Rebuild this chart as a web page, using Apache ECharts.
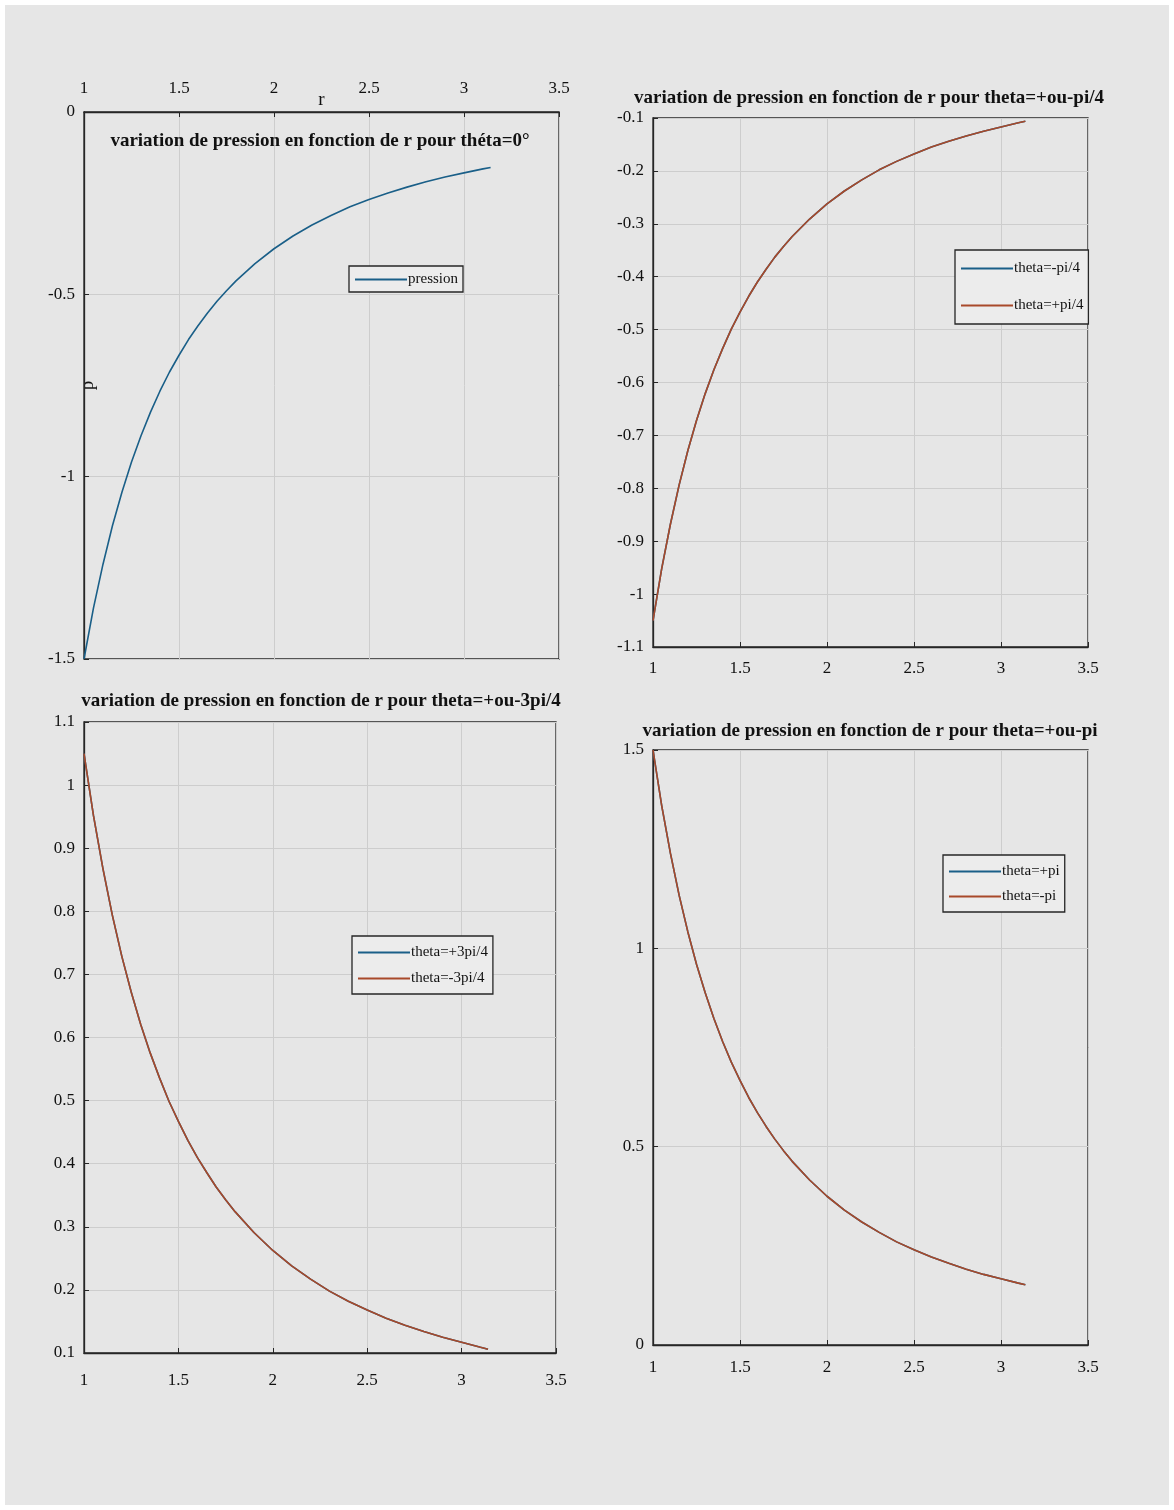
<!DOCTYPE html>
<html>
<head>
<meta charset="utf-8">
<script src="https://cdn.jsdelivr.net/npm/echarts@6/dist/echarts.min.js"></script>
<style>
html,body{margin:0;padding:0;background:#ffffff;}
#chart{position:absolute;left:0;top:0;width:1174px;height:1510px;background:#e6e6e6;box-shadow:inset 0 0 0 5px #ffffff;}
</style>
</head>
<body>
<div id="chart"></div>
<script>
// r values (abscissa)
const rVals = [1, 1.05, 1.1, 1.15, 1.2, 1.25, 1.3, 1.35, 1.4, 1.45, 1.5, 1.55, 1.6, 1.65, 1.7, 1.75, 1.8, 1.9, 2.0, 2.1, 2.2, 2.3, 2.4, 2.5, 2.6, 2.7, 2.8, 2.9, 3.0, 3.1, 3.14];
// theta = 0
const pTheta0 = [-1.5, -1.36, -1.24, -1.134, -1.042, -0.96, -0.888, -0.823, -0.765, -0.713, -0.667, -0.624, -0.586, -0.551, -0.519, -0.490, -0.463, -0.416, -0.375, -0.340, -0.310, -0.284, -0.260, -0.240, -0.222, -0.206, -0.191, -0.178, -0.167, -0.156, -0.152];
// theta = -pi/4 and +pi/4
const pMinusPi4 = [-1.05, -0.952, -0.868, -0.794, -0.729, -0.672, -0.621, -0.576, -0.536, -0.499, -0.467, -0.437, -0.410, -0.386, -0.363, -0.343, -0.324, -0.291, -0.2625, -0.238, -0.217, -0.198, -0.182, -0.168, -0.155, -0.144, -0.134, -0.125, -0.117, -0.109, -0.106];
const pPlusPi4 = [-1.05, -0.952, -0.868, -0.794, -0.729, -0.672, -0.621, -0.576, -0.536, -0.499, -0.467, -0.437, -0.410, -0.386, -0.363, -0.343, -0.324, -0.291, -0.2625, -0.238, -0.217, -0.198, -0.182, -0.168, -0.155, -0.144, -0.134, -0.125, -0.117, -0.109, -0.106];
// theta = +3pi/4 and -3pi/4
const pPlus3Pi4 = [1.05, 0.952, 0.868, 0.794, 0.729, 0.672, 0.621, 0.576, 0.536, 0.499, 0.467, 0.437, 0.410, 0.386, 0.363, 0.343, 0.324, 0.291, 0.2625, 0.238, 0.217, 0.198, 0.182, 0.168, 0.155, 0.144, 0.134, 0.125, 0.117, 0.109, 0.106];
const pMinus3Pi4 = [1.05, 0.952, 0.868, 0.794, 0.729, 0.672, 0.621, 0.576, 0.536, 0.499, 0.467, 0.437, 0.410, 0.386, 0.363, 0.343, 0.324, 0.291, 0.2625, 0.238, 0.217, 0.198, 0.182, 0.168, 0.155, 0.144, 0.134, 0.125, 0.117, 0.109, 0.106];
// theta = +pi and -pi
const pPlusPi = [1.5, 1.36, 1.24, 1.134, 1.042, 0.96, 0.888, 0.823, 0.765, 0.713, 0.667, 0.624, 0.586, 0.551, 0.519, 0.490, 0.463, 0.416, 0.375, 0.340, 0.310, 0.284, 0.260, 0.240, 0.222, 0.206, 0.191, 0.178, 0.167, 0.156, 0.152];
const pMinusPi = [1.5, 1.36, 1.24, 1.134, 1.042, 0.96, 0.888, 0.823, 0.765, 0.713, 0.667, 0.624, 0.586, 0.551, 0.519, 0.490, 0.463, 0.416, 0.375, 0.340, 0.310, 0.284, 0.260, 0.240, 0.222, 0.206, 0.191, 0.178, 0.167, 0.156, 0.152];

const titles = [
  'variation de pression en fonction de r pour théta=0°',
  'variation de pression en fonction de r pour theta=+ou-pi/4',
  'variation de pression en fonction de r pour theta=+ou-3pi/4',
  'variation de pression en fonction de r pour theta=+ou-pi'
];
const seriesNames = [['pression'], ['theta=-pi/4', 'theta=+pi/4'], ['theta=+3pi/4', 'theta=-3pi/4'], ['theta=+pi', 'theta=-pi']];
const seriesData = [[pTheta0], [pMinusPi4, pPlusPi4], [pPlus3Pi4, pMinus3Pi4], [pPlusPi, pMinusPi]];
const yRanges = [[-1.5, 0, 0.5], [-1.1, -0.1, 0.1], [0.1, 1.1, 0.1], [0, 1.5, 0.5]];
const xRange = [1, 3.5, 0.5];

const FONT = "'Liberation Serif', 'DejaVu Serif', serif";
const BLUE = '#1a5f88';
const ORANGE = '#a8492a';
const AX = '#262626';

const grids = [
  {left: 84, top: 112, width: 475, height: 547},
  {left: 653, top: 118, width: 435, height: 529},
  {left: 84, top: 722, width: 472, height: 631},
  {left: 653, top: 750, width: 435, height: 595}
];
const xLabelMargin = [15, 13, 19, 14];

function fmt(v){ return String(parseFloat(v.toFixed(2))); }

const xAxes = grids.map((g, i) => ({
  type: 'value', gridIndex: i, min: xRange[0], max: xRange[1], interval: xRange[2],
  position: i === 0 ? 'top' : 'bottom',
  name: i === 0 ? 'r' : '', nameLocation: 'middle', nameGap: 2, nameMoveOverlap: false,
  nameTextStyle: {fontFamily: FONT, fontSize: 19, color: '#111'},
  axisLine: {show: true, onZero: false, lineStyle: {color: AX, width: 1.3}},
  axisTick: {show: true, inside: true, length: 5, lineStyle: {color: AX}},
  axisLabel: {fontFamily: FONT, fontSize: 17, color: '#111', margin: xLabelMargin[i], formatter: fmt},
  splitLine: {show: true, lineStyle: {color: '#cdcdcd', width: 1}}
}));

const yAxes = grids.map((g, i) => ({
  type: 'value', gridIndex: i, min: yRanges[i][0], max: yRanges[i][1], interval: yRanges[i][2],
  name: i === 0 ? 'p' : '', nameLocation: 'middle', nameGap: -14, nameRotate: 90, nameMoveOverlap: false,
  nameTextStyle: {fontFamily: FONT, fontSize: 19, color: '#111'},
  axisLine: {show: true, onZero: false, lineStyle: {color: AX, width: 1.3}},
  axisTick: {show: true, inside: true, length: 5, lineStyle: {color: AX}},
  axisLabel: {fontFamily: FONT, fontSize: 17, color: '#111', margin: 9, formatter: fmt},
  splitLine: {show: true, lineStyle: {color: '#cdcdcd', width: 1}}
}));

const series = [];
seriesNames.forEach((names, gi) => {
  names.forEach((nm, si) => {
    series.push({
      type: 'line', name: nm, xAxisIndex: gi, yAxisIndex: gi,
      data: rVals.map((r, k) => [r, seriesData[gi][si][k]]),
      showSymbol: false, smooth: false,
      lineStyle: {width: 1.6, color: si === 0 ? BLUE : ORANGE},
      itemStyle: {color: si === 0 ? BLUE : ORANGE},
      z: 3 + si
    });
  });
});

const titleCfg = [
  {x: 320, top: 132},
  {x: 869, top: 89},
  {x: 321, top: 692},
  {x: 870, top: 722}
];

const legendCfg = [
  {left: 349, top: 266, itemGap: 10, padding: [6, 5, 5, 6]},
  {left: 955, top: 250, itemGap: 22, padding: [11, 5, 11, 6]},
  {left: 352, top: 936, itemGap: 11, padding: [9, 5, 8, 6]},
  {left: 943, top: 855, itemGap: 10, padding: [9, 5, 8, 6]}
];

const option = {
  animation: false,
  title: titles.map((t, i) => ({
    text: t, left: titleCfg[i].x, top: titleCfg[i].top, textAlign: 'center', padding: 0,
    textStyle: {fontFamily: FONT, fontWeight: 'bold', fontSize: 19, color: '#111'}
  })),
  legend: seriesNames.map((names, i) => ({
    data: names, orient: 'vertical', left: legendCfg[i].left, top: legendCfg[i].top,
    itemGap: legendCfg[i].itemGap, padding: legendCfg[i].padding,
    icon: 'rect', itemWidth: 52, itemHeight: 2,
    borderColor: AX, borderWidth: 1.3, backgroundColor: '#ececec',
    textStyle: {fontFamily: FONT, fontSize: 15, color: '#111', padding: [0, 0, 0, -4]},
    selectedMode: false
  })),
  grid: grids.map(g => Object.assign({show: true, borderColor: AX, borderWidth: 1.3, backgroundColor: 'transparent', containLabel: false}, g)),
  xAxis: xAxes,
  yAxis: yAxes,
  series: series
};

const chart = echarts.init(document.getElementById('chart'), null, {renderer: 'canvas'});
chart.setOption(option);
</script>
</body>
</html>
